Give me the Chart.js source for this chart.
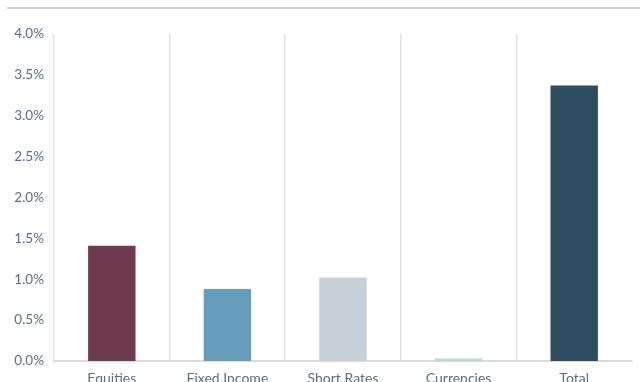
<!DOCTYPE html>
<html>
<head>
<meta charset="utf-8">
<script src="https://cdn.jsdelivr.net/npm/chart.js@4.4.1/dist/chart.umd.min.js"></script>
<style>
    html, body { margin: 0; padding: 0; background: #fff; overflow: hidden; }
    #wrap { position: relative; width: 640px; height: 382px; }
    #rule { position: absolute; left: 7px; right: 0; top: 7px; height: 2px; background: #cccccc; }
</style>
</head>
<body>
<div id="wrap">
    <div id="rule"></div>
    <canvas id="contribChart" width="640" height="382"></canvas>
</div>
<script>
const categories = ["Equities", "Fixed Income", "Short Rates", "Currencies", "Total"];
const contributions = [1.41, 0.88, 1.02, 0.03, 3.37];
const barColors = ["#6d3a4f", "#689cbb", "#c5d0d9", "#b3dccf", "#2e4c60"];
const yTicks = [0, 0.5, 1.0, 1.5, 2.0, 2.5, 3.0, 3.5, 4.0];

const tickColor = "#5b6e80";
const gridColor = "#e2e2e2";

function renderChart() {
    const ctx = document.getElementById("contribChart");

    new Chart(ctx, {
        type: "bar",
        data: {
            labels: categories,
            datasets: [{
                data: contributions,
                backgroundColor: barColors,
                borderWidth: 0,
                categoryPercentage: 1,
                barPercentage: 0.41
            }]
        },
        options: {
            responsive: false,
            animation: false,
            layout: {
                padding: { top: 34, right: 8, left: 0, bottom: 0 }
            },
            scales: {
                x: {
                    grid: {
                        offset: true,
                        drawTicks: false,
                        color: c => c.type === "tick" ? gridColor : "rgba(0,0,0,0)",
                        lineWidth: 1.5
                    },
                    border: { display: true, color: "#dcdcdc", width: 2 },
                    ticks: {
                        color: tickColor,
                        padding: 9,
                        font: { family: "Lato", size: 14 }
                    },
                    afterFit: scale => { scale.height = 21; }
                },
                y: {
                    min: 0,
                    max: 4,
                    afterBuildTicks: scale => {
                        scale.ticks = yTicks.map(v => ({ value: v }));
                    },
                    grid: { display: false, drawTicks: false },
                    border: { display: false },
                    ticks: {
                        color: tickColor,
                        padding: 10,
                        font: { family: "Lato", size: 13.5 },
                        callback: v => v.toFixed(1) + "%"
                    },
                    afterFit: scale => { scale.width = 54; }
                }
            },
            plugins: {
                legend: { display: false },
                tooltip: { enabled: false }
            }
        }
    });
};

renderChart();
</script>
</body>
</html>
